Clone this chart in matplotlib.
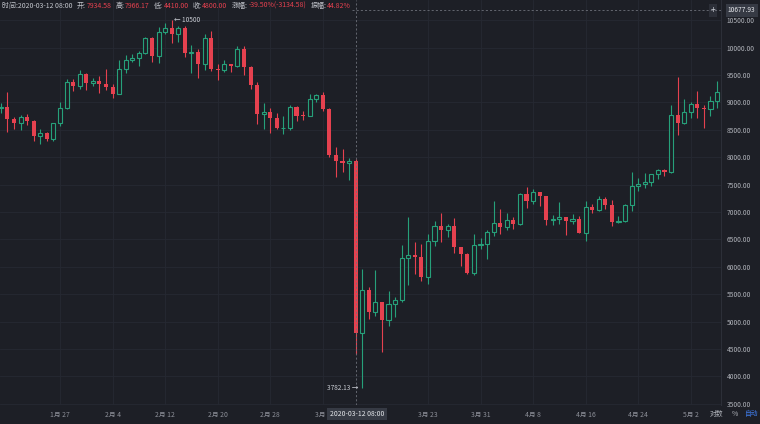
import matplotlib
matplotlib.use('Agg')
import matplotlib.pyplot as plt
import numpy as np
import pandas as pd

plt.rcParams['font.family'] = ['Noto Sans CJK SC', 'DejaVu Sans']

# BTC/USDT daily candles, 2020-01-18 .. 2020-05-06
start_date = '2020-01-18'
opens = [8899, 8907, 8690, 8630, 8725, 8660, 8385, 8435, 8340, 8618,
         8906, 9375, 9302, 9509, 9350, 9384, 9332, 9288, 9159, 9618,
         9767, 9812, 9906, 10167, 9852, 10276, 10354, 10242, 10364, 9900,
         9912, 9707, 10182, 9614, 9599, 9695, 9664, 9981, 9652, 9310,
         8786, 8821, 8720, 8528, 8531, 8915, 8760, 8750, 9054, 9131,
         8886, 8033, 7935, 7895, 7934.58, 4800, 5578, 5172, 5361, 5028,
         5312, 5393, 6162, 6208, 6186, 5816, 6469, 6744, 6677, 6737,
         6360, 6236, 5881, 6394, 6410, 6642, 6794, 6734, 6856, 6772,
         7329, 7197, 7361, 7283, 6858, 6876, 6903, 6838, 6868, 6621,
         7096, 7032, 7243, 7120, 6826, 6842, 7125, 7482, 7505, 7538,
         7694, 7774, 7738, 8778, 8620, 8826, 8972, 8894, 8884, 9031]
highs = [8990, 9198, 8740, 8770, 8795, 8680, 8520, 8460, 8630, 9000,
         9418, 9432, 9590, 9530, 9450, 9480, 9600, 9330, 9770, 9860,
         9880, 9945, 10190, 10190, 10383, 10450, 10500, 10393, 10385, 10050,
         9970, 10250, 10300, 9700, 9780, 9700, 10030, 10020, 9660, 9380,
         8980, 8900, 8800, 8750, 8950, 8930, 8840, 9150, 9160, 9190,
         8890, 8180, 8150, 7980, 7966.17, 5955, 5640, 5940, 5365, 5558,
         5450, 6400, 6900, 6457, 6421, 6600, 6838, 6980, 6780, 6888,
         6370, 6259, 6599, 6524, 6679, 7198, 7048, 6990, 6900, 7355,
         7459, 7420, 7371, 7295, 6944, 7176, 6903, 6970, 6933, 7198,
         7149, 7298, 7266, 7220, 6934, 7145, 7738, 7615, 7705, 7700,
         7792, 7780, 8952, 9460, 9067, 9011, 9200, 8950, 9118, 9395]
lows = [8805, 8466, 8520, 8490, 8580, 8300, 8240, 8290, 8300, 8560,
        8870, 9210, 9240, 9220, 9300, 9180, 9230, 9080, 9150, 9530,
        9730, 9670, 9880, 9730, 9710, 10240, 10080, 10110, 9820, 9530,
        9450, 9590, 9580, 9400, 9560, 9560, 9650, 9500, 9250, 8600,
        8520, 8450, 8520, 8420, 8500, 8660, 8670, 8750, 9010, 8850,
        8000, 7630, 7730, 7590, 4410, 3782.13, 5055, 5100, 4442, 4921,
        5092, 5351, 5670, 5860, 5734, 5687, 6375, 6460, 6535, 6250,
        6020, 5869, 5858, 6321, 6150, 6570, 6605, 6673, 6687, 6771,
        7070, 7150, 7111, 6754, 6765, 6780, 6575, 6786, 6613, 6475,
        6987, 7020, 7055, 6751, 6793, 6818, 7020, 7388, 7431, 7480,
        7606, 7659, 7710, 8401, 8600, 8722, 8712, 8531, 8760, 8906]
closes = [8907, 8690, 8630, 8725, 8660, 8385, 8435, 8340, 8618, 8906,
          9375, 9302, 9509, 9350, 9384, 9332, 9288, 9159, 9618, 9767,
          9812, 9906, 10167, 9852, 10276, 10354, 10242, 10364, 9900, 9912,
          9707, 10182, 9614, 9599, 9695, 9664, 9981, 9652, 9310, 8786,
          8821, 8720, 8528, 8531, 8915, 8760, 8750, 9054, 9131, 8886,
          8033, 7935, 7895, 7934.58, 4800, 5578, 5172, 5361, 5028, 5312,
          5393, 6162, 6208, 6186, 5816, 6469, 6744, 6677, 6737, 6360,
          6236, 5881, 6394, 6410, 6642, 6794, 6734, 6856, 6772, 7329,
          7197, 7361, 7283, 6858, 6876, 6903, 6838, 6868, 6621, 7096,
          7032, 7243, 7120, 6826, 6842, 7125, 7482, 7505, 7538, 7694,
          7774, 7738, 8778, 8620, 8826, 8972, 8894, 8884, 9031, 9190]

tick_dates = ['2020-01-27', '2020-02-04', '2020-02-12', '2020-02-20', '2020-02-28',
              '2020-03-07', '2020-03-23', '2020-03-31', '2020-04-08', '2020-04-16',
              '2020-04-24', '2020-05-02']
price_ticks = [3500, 4000, 4500, 5000, 5500, 6000, 6500, 7000, 7500, 8000,
               8500, 9000, 9500, 10000, 10500]

header_parts = [('时间:2020-03-12 08:00', 'lab'), ('开:', 'lab'), ('7934.58', 'val'),
                ('高:', 'lab'), ('7966.17', 'val'), ('低:', 'lab'), ('4410.00', 'val'),
                ('收:', 'lab'), ('4800.00', 'val'), ('涨幅:', 'lab'),
                ('-39.50%(-3134.58)', 'val'), ('振幅:', 'lab'), ('44.82%', 'val')]

BG = '#1d1f26'
GRID = '#262932'
UP = '#26a07a'
DOWN = '#e5414f'
LAB = '#c4c7ce'

dates = pd.date_range(start_date, periods=len(opens), freq='D')
x = np.arange(len(dates))
o = np.array(opens, float); h = np.array(highs, float)
l = np.array(lows, float); c = np.array(closes, float)

fig = plt.figure(figsize=(7.6, 4.24), dpi=100, facecolor=BG)
ax = fig.add_axes([0, 19/424, 721/760, 405/424], facecolor=BG)

# candles: hollow green, filled red
up = c >= o
w = 0.62
ax.vlines(x[up], l[up], h[up], color=UP, lw=0.8, zorder=2)
ax.vlines(x[~up], l[~up], h[~up], color=DOWN, lw=0.8, zorder=2)
body_lo = np.minimum(o, c)
body_h = np.maximum(np.abs(c - o), 12)
ax.bar(x[up], body_h[up], w, bottom=body_lo[up], facecolor=BG, edgecolor=UP,
       linewidth=0.8, zorder=3)
ax.bar(x[~up], body_h[~up], w, bottom=body_lo[~up], color=DOWN, linewidth=0, zorder=3)

ax.set_xlim(-0.13, 109.6)
ax.set_ylim(3478, 10868)

tick_idx = [int((pd.Timestamp(d) - dates[0]).days) for d in tick_dates]
tick_lab = [f'{pd.Timestamp(d).month}月 {pd.Timestamp(d).day}' for d in tick_dates]
ax.set_xticks(tick_idx)
ax.set_xticklabels(tick_lab)
ax.set_yticks(price_ticks)
ax.set_yticklabels([f'{v:.2f}' for v in price_ticks])
ax.yaxis.tick_right()
ax.tick_params(axis='y', length=0, pad=4, labelsize=4.8, labelcolor='#b0b3ba')
ax.tick_params(axis='x', length=0, pad=4, labelsize=4.9, labelcolor='#8d9099')
ax.grid(True, color=GRID, lw=0.6)
for s in ['top', 'left', 'bottom']:
    ax.spines[s].set_visible(False)
ax.spines['right'].set_color('#2c2f38')
ax.spines['right'].set_linewidth(0.8)

# crosshair
cross_i = int((pd.Timestamp('2020-03-12') - dates[0]).days)
cross_price = 10677.93
ax.axvline(cross_i, color='#6e717a', lw=0.6, ls=(0, (2.5, 2.5)), zorder=4)
ax.axhline(cross_price, xmin=352/721, color='#6e717a', lw=0.6, ls=(0, (2.5, 2.5)), zorder=4)

# high / low marks
hi_i = int(np.argmax(h)); lo_i = int(np.argmin(l))
ax.annotate(f'← {h[hi_i]:.0f}', xy=(hi_i, h[hi_i]), xytext=(2, 0), textcoords='offset points',
            ha='left', va='center', fontsize=4.7, color='#c9ccd3', zorder=5)
ax.annotate(f'{l[lo_i]:.2f} →', xy=(lo_i, l[lo_i]), xytext=(-3, 0), textcoords='offset points',
            ha='right', va='center', fontsize=4.7, color='#c9ccd3', zorder=5)

# price label on the right axis
ax.annotate(f'{cross_price:.2f}', xy=(1, cross_price), xycoords=('axes fraction', 'data'),
            xytext=(5, 0), textcoords='offset points', ha='left', va='center',
            fontsize=4.8, color='#e6e8ec', annotation_clip=False,
            bbox=dict(boxstyle='square,pad=0.35', fc='#363a44', ec='none'))
ax.annotate('+', xy=(1, cross_price), xycoords=('axes fraction', 'data'),
            xytext=(-6, 0), textcoords='offset points', ha='center', va='center',
            fontsize=6, color='#c9ccd3', annotation_clip=False,
            bbox=dict(boxstyle='square,pad=0.2', fc='#2c2f38', ec='none'))

# date label of the crosshair
fig.text(357/760, 1 - 414/424, '2020-03-12 08:00', ha='center', va='center',
         fontsize=4.9, color='#e6e8ec', zorder=10,
         bbox=dict(boxstyle='square,pad=0.35', fc='#363a44', ec='none'))

# bottom right controls
fig.text(710/760, 1 - 414/424, '对数', ha='left', va='center', fontsize=4.9, color='#b4b7be',
         zorder=10, bbox=dict(boxstyle='square,pad=0.3', fc=BG, ec='none'))
fig.text(735/760, 1 - 414/424, '%', ha='center', va='center', fontsize=4.9, color='#b4b7be')
fig.text(752/760, 1 - 414/424, '自动', ha='center', va='center', fontsize=4.9, color='#3f7be8')

# header line, each part placed right after the previous one
t = fig.text(2/760, 1 - 6/424, header_parts[0][0], ha='left', va='center',
             fontsize=5.0, color=LAB)
for s, kind in header_parts[1:]:
    gap = 3.2 if kind == 'lab' else 0.3
    t = ax.annotate(s, xy=(1, 0.5), xycoords=t, xytext=(gap, 0), textcoords='offset points',
                    ha='left', va='center', fontsize=5.0,
                    color=LAB if kind == 'lab' else DOWN, annotation_clip=False)

fig.savefig('out.png', dpi=100, facecolor=BG)
